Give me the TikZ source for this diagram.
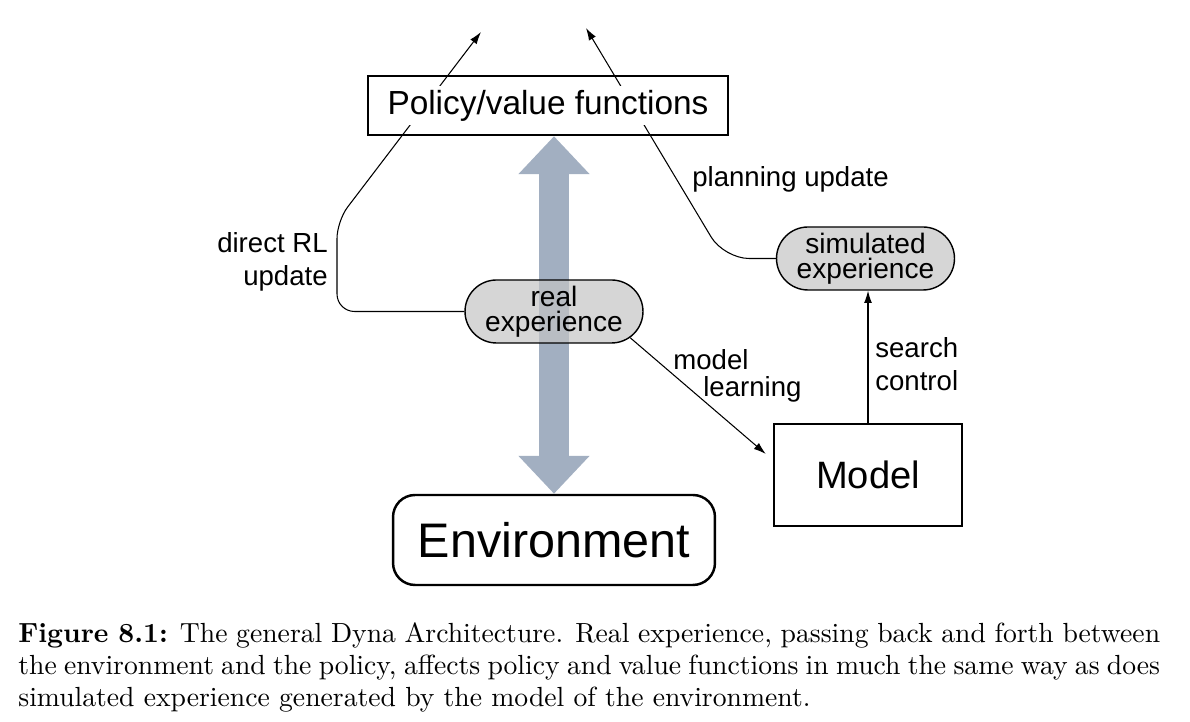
\documentclass[tikz,border=0pt]{standalone}
\usepackage{fontspec}
\usepackage{tikz}
\usetikzlibrary{arrows.meta,shapes.misc,backgrounds}
\newfontfamily\arialfont{Liberation Sans}
\newfontfamily\capfont{lmroman10-regular.otf}[BoldFont=lmroman10-bold.otf]
\definecolor{arrowblue}{RGB}{162,175,193}
\definecolor{pillgray}{RGB}{196,196,196}

\begin{document}
\begin{tikzpicture}[x=0.02cm,y=0.02cm,>={Latex[length=7pt,width=4.5pt]},
  polbox/.style={draw,line width=1.4pt,minimum width=7.2cm,minimum height=1.18cm,inner sep=0pt,
    font=\arialfont\fontsize{19}{22}\selectfont},
  envbox/.style={draw,line width=1.4pt,rounded corners=0.44cm,minimum width=6.44cm,minimum height=1.8cm,
    font=\arialfont\fontsize{27.6}{30}\selectfont},
  modelbox/.style={draw,line width=1.4pt,minimum width=3.76cm,minimum height=2.04cm,
    font=\arialfont\fontsize{21.7}{24}\selectfont},
  pill/.style={rounded rectangle,draw,line width=0.8pt,fill=pillgray,fill opacity=0.7,text opacity=1,
    minimum width=3.56cm,minimum height=1.26cm,inner sep=0pt,align=center,
    font=\arialfont\fontsize{16}{14.2}\selectfont},
  lbl/.style={inner sep=0pt,font=\arialfont\fontsize{15.7}{18.5}\selectfont},
  link/.style={line width=0.6pt},
  bigarrow/.style={line width=0.6cm,draw=arrowblue,
    arrows={Triangle[length=0.76cm,width=1.38cm]-Triangle[length=0.76cm,width=1.38cm]}}
]
\useasboundingbox (0,0) rectangle (1190,722);

% boxes
\node[polbox] (pol) at (548,616.5) {\fboxsep=2pt\colorbox{white}{Policy/value functions}};
\node[envbox] (env) at (554,182) {Environment};
\node[modelbox] (model) at (868,247) {Model};
\node[pill] (real) at (554,410.5) {real\\experience};
\node[pill] (sim) at (865.5,463.5) {simulated\\experience};

\coordinate (tipL) at (481,690);
\coordinate (tipR) at (586,694);

\begin{scope}[on background layer]
\draw[bigarrow] (env.north |- pol.south) -- (env.north);
\draw[link,->,rounded corners=0.35cm] (real.west) -- (337,410.5) -- (337,501) -- (tipL);
\draw[link,->,rounded corners=0.5cm] (sim.west) -- (724,463.5) -- (tipR);
\end{scope}

\draw[link,->] (real.-19) -- ([shift={(-7,21)}]model.west);
\draw[link,->] (model.north) -- (model.north |- sim.south);

% labels
\node[lbl,anchor=east,align=right] (direct) at (328,460) {direct RL\\update};
\node[lbl,anchor=west] (plan) at (692,543) {planning update};
\node[lbl,anchor=west,align=left,font=\arialfont\fontsize{15.7}{15.3}\selectfont] (learn) at (673,346)
  {model\\\hspace*{0.6cm}learning};
\node[lbl,anchor=west,align=left] (search) at (875,358) {search\\control};

% caption
\node[anchor=north west,inner sep=0pt,align=left,font=\capfont\fontsize{15.75}{18.2}\selectfont] (cap) at (18,100)
  {\makebox[22.84cm][s]{\textbf{Figure 8.1:} The general Dyna Architecture. Real experience, passing back and forth between}\\
   \makebox[22.84cm][s]{the environment and the policy, affects policy and value functions in much the same way as does}\\
   simulated experience generated by the model of the environment.};
\end{tikzpicture}
\end{document}
